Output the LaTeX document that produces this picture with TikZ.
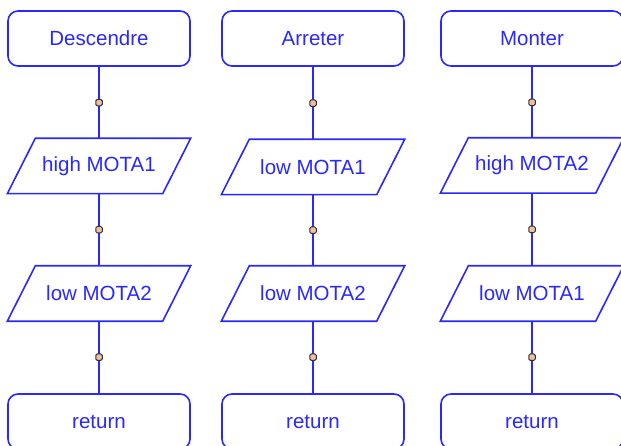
\documentclass[tikz,border=0pt]{standalone}
\usepackage{fontspec}
\setmainfont{Liberation Sans}
\definecolor{fc}{RGB}{40,40,255}
\definecolor{dotfill}{RGB}{240,190,160}
\begin{document}
\begin{tikzpicture}[x=1pt,y=-1pt,
  lbl/.style={text=fc, font=\fontsize{20.5}{24}\selectfont},
  term/.style={lbl, draw=fc, line width=1.6pt, rounded corners=10pt, minimum width=182pt, minimum height=55pt, inner sep=0pt},
  iobox/.style={lbl, minimum width=155pt, minimum height=55pt, inner sep=0pt},
  pline/.style={draw=fc, line width=1.6pt, line join=miter},
  conn/.style={draw=fc, line width=1.6pt},
  jdot/.style={rectangle, rounded corners=1.5pt, draw=black!80, fill=dotfill, minimum size=6.5pt, inner sep=0pt, line width=1pt}]
\useasboundingbox (0,0) rectangle (621,446);
\clip (0,0) rectangle (621,446);

% column 1
\node[term]  (d0) at (99,38.5)  {Descendre};
\node[iobox] (d1) at (99,166)  {high MOTA1};
\node[iobox] (d2) at (99,293.5) {low MOTA2};
\node[term]  (d3) at (99,421.5) {return};

% column 2
\node[term]  (a0) at (313,38.5)  {Arreter};
\node[iobox] (a1) at (313,167)  {low MOTA1};
\node[iobox] (a2) at (313,293.5) {low MOTA2};
\node[term]  (a3) at (313,421.5) {return};

% column 3
\node[term]  (m0) at (532,38.5)  {Monter};
\node[iobox] (m1) at (532,165.5)  {high MOTA2};
\node[iobox] (m2) at (532,293.5) {low MOTA1};
\node[term]  (m3) at (532,421.5) {return};

% parallelograms
\foreach \p in {d1,d2,a1,a2,m1,m2}{
  \draw[pline] ([xshift=-14pt]\p.south west) -- ([xshift=-14pt]\p.south east)
     -- ([xshift=14pt]\p.north east) -- ([xshift=14pt]\p.north west) -- cycle;
}

% connectors with junction dots
\foreach \a/\b in {d0/d1,d1/d2,d2/d3,a0/a1,a1/a2,a2/a3,m0/m1,m1/m2,m2/m3}{
  \draw[conn] (\a.south) -- (\b.north) node[jdot, midway] {};
}
\end{tikzpicture}
\end{document}
